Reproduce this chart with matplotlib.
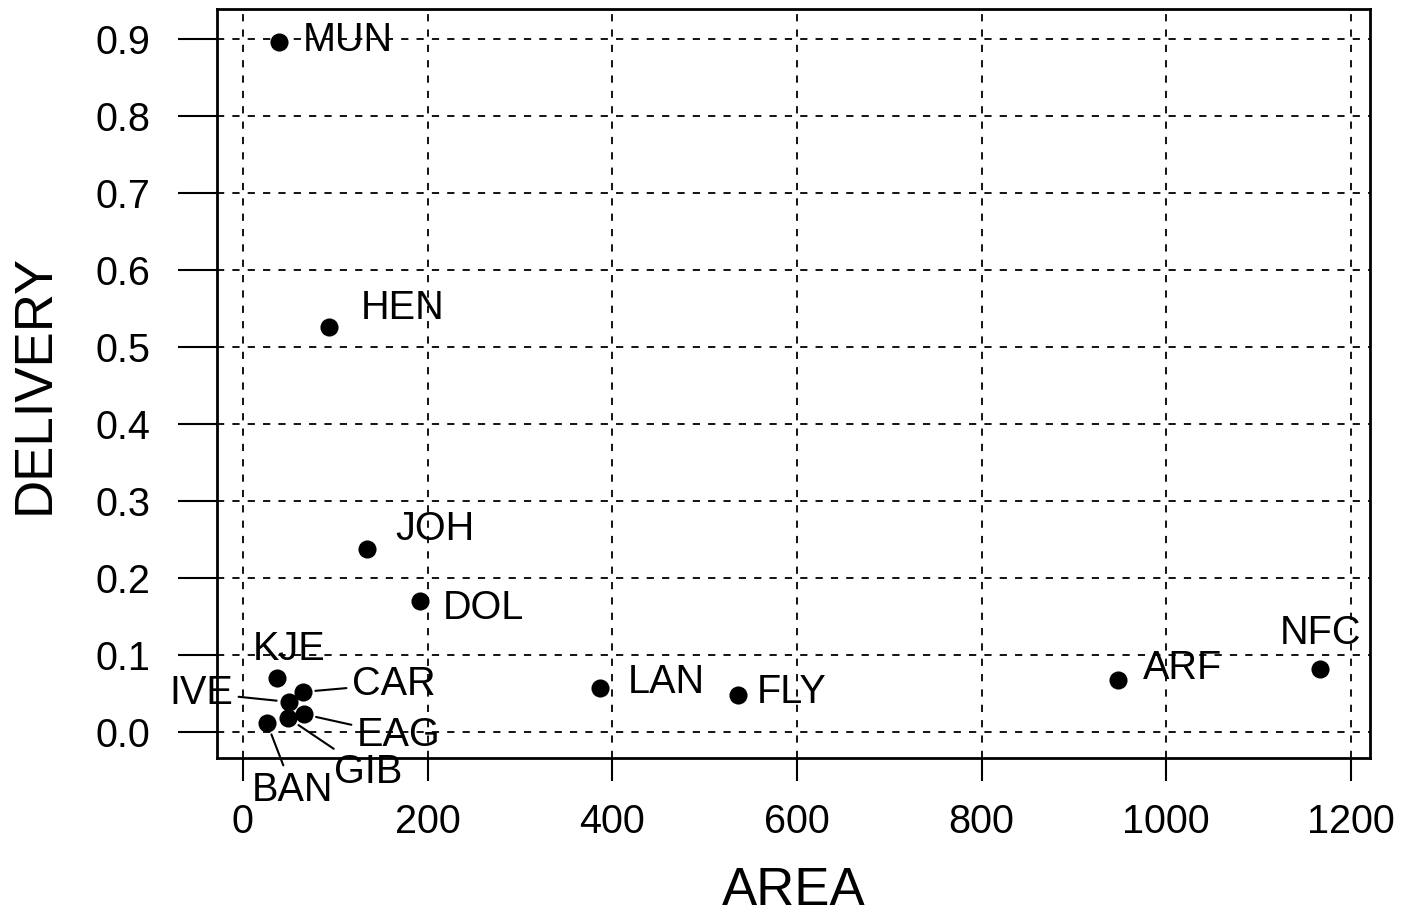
import matplotlib
matplotlib.use("Agg")
import matplotlib.pyplot as plt
import numpy as np

plt.rcParams['font.family'] = ['Liberation Sans', 'DejaVu Sans']

names = ["MUN", "HEN", "JOH", "DOL", "KJE", "CAR", "IVE", "EAG", "GIB", "BAN",
         "LAN", "FLY", "ARF", "NFC"]
area = [39, 93, 134, 192, 37, 65, 50, 66, 49, 26, 387, 536, 948, 1166]
delivery = [0.897, 0.526, 0.238, 0.170, 0.070, 0.052, 0.039, 0.023, 0.018, 0.012,
            0.057, 0.048, 0.068, 0.082]

# label offsets in pixels (dx, dy), horizontal alignment, leader line
label_dx = [24, 32, 29, 23, 12, 49, -56, 53, 46, -15, 27, 19, 25, 1]
label_dy = [2, 19, 20, -7, 29, 8, 9, -21, -54, -67, 6, 3, 12, 36]
label_ha = ["left", "left", "left", "left", "center", "left", "right", "left",
            "left", "left", "left", "left", "left", "center"]
leader = [False, False, False, False, False, True, True, True, True, True,
          False, False, False, False]

xticks = [0, 200, 400, 600, 800, 1000, 1200]
yticks = [0.0, 0.1, 0.2, 0.3, 0.4, 0.5, 0.6, 0.7, 0.8, 0.9]

fig = plt.figure(figsize=(14.15, 9.22), dpi=100)
ax = fig.add_axes([0.1534, 0.1779, 0.8148, 0.8121])

ax.scatter(area, delivery, s=170, color="black", zorder=3, linewidths=0)

for n, x, y, dx, dy, ha, ld in zip(names, area, delivery, label_dx, label_dy,
                                   label_ha, leader):
    kw = {}
    if ld:
        kw["arrowprops"] = dict(arrowstyle="-", color="black", lw=1.5,
                                shrinkA=2, shrinkB=9)
    ax.annotate(n, xy=(x, y), xytext=(dx, dy), textcoords="offset pixels",
                ha=ha, va="center", fontsize=28.5, color="black", zorder=4, **kw)

ax.set_xlim(-28, 1220.6)
ax.set_ylim(-0.0338, 0.939)
ax.set_xticks(xticks)
ax.set_yticks(yticks)
ax.set_xticklabels([str(t) for t in xticks])
ax.set_yticklabels([f"{t:.1f}" for t in yticks])
ax.tick_params(axis="both", labelsize=28.5, width=1.5, direction="out",
               color="black")
ax.tick_params(axis="y", length=28, pad=20)
ax.tick_params(axis="x", length=16.5, pad=16)
ax.grid(True, color="black", linestyle=(0, (4, 4.5)), linewidth=1.3)
ax.set_axisbelow(True)
for s in ax.spines.values():
    s.set_linewidth(2)
    s.set_color("black")

ax.set_xlabel("AREA", fontsize=38, labelpad=18)
ax.set_ylabel("DELIVERY", fontsize=38, labelpad=26)

fig.savefig("out.png", dpi=100)
